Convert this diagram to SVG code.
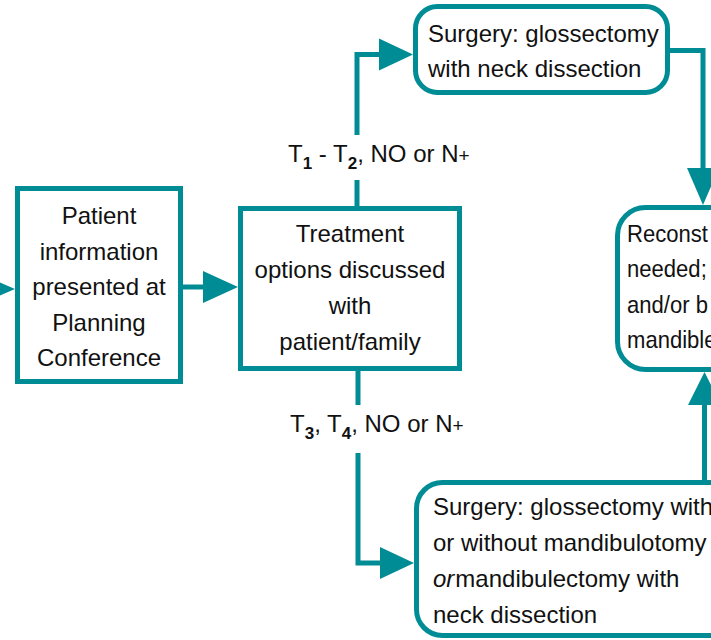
<svg xmlns="http://www.w3.org/2000/svg" width="711" height="640" viewBox="0 0 711 640">
<style>
.box{fill:#fff;stroke:#008c95;stroke-width:5}
.ln{fill:none;stroke:#008c95;stroke-width:5}
.hd{fill:#008c95;stroke:none}
text{font-family:"Liberation Sans",Arial,sans-serif;font-size:24px;fill:#111}
.c{text-anchor:middle}
.sub{font-size:17px;font-weight:bold}
.pl{font-size:19px}
</style>
<rect width="711" height="640" fill="#fff"/>
<g id="connectors">
<polygon class="hd" points="15,289 -22,273 -22,305"/>
<path class="ln" d="M183,287 H205"/>
<polygon class="hd" points="238,287 203,271 203,303"/>
<path class="ln" d="M357,206 V180 M357,135 V54.5 H381"/>
<polygon class="hd" points="413,54.5 379,38.5 379,70.5"/>
<path class="ln" d="M670,50.5 H703 V170"/>
<polygon class="hd" points="703,205 687,168 719,168"/>
<path class="ln" d="M358,371 V405 M358,453 V563 H382"/>
<polygon class="hd" points="414,563 380,547 380,579"/>
<path class="ln" d="M704.5,480 V403"/>
<polygon class="hd" points="704.5,372 688,405 721,405"/>
<text x="288" y="162">T<tspan class="sub" dy="7">1</tspan><tspan dy="-7"> - T</tspan><tspan class="sub" dy="7">2</tspan><tspan dy="-7">, NO or N</tspan><tspan class="pl">+</tspan></text>
<text x="290" y="432">T<tspan class="sub" dy="7">3</tspan><tspan dy="-7">, T</tspan><tspan class="sub" dy="7">4</tspan><tspan dy="-7">, NO or N</tspan><tspan class="pl">+</tspan></text>
</g>
<g id="patient">
<rect class="box" x="17.5" y="188.5" width="163" height="193"/>
<text class="c" x="99" y="224">Patient</text>
<text class="c" x="99" y="259.5">information</text>
<text class="c" x="99" y="295">presented at</text>
<text class="c" x="99" y="330.5">Planning</text>
<text class="c" x="99" y="366">Conference</text>
</g>
<g id="treatment">
<rect class="box" x="240.5" y="208.5" width="219" height="160"/>
<text class="c" x="350" y="242">Treatment</text>
<text class="c" x="350" y="278">options discussed</text>
<text class="c" x="350" y="314">with</text>
<text class="c" x="350" y="350">patient/family</text>
</g>
<g id="surgery-top">
<rect class="box" x="415.5" y="6.5" width="252" height="86" rx="22"/>
<text x="428" y="42">Surgery: glossectomy</text>
<text x="428" y="77">with neck dissection</text>
</g>
<g id="reconstruction">
<rect class="box" x="617.5" y="207.5" width="140" height="162" rx="28"/>
<g transform="translate(627 0) scale(0.92 1) translate(-627 0)">
<text x="627" y="242">Reconst</text>
<text x="627" y="277.5">needed;</text>
<text x="627" y="313">and/or b</text>
<text x="627" y="348.5">mandible</text>
</g>
</g>
<g id="surgery-bottom">
<rect class="box" x="416.5" y="482.5" width="330" height="153" rx="26"/>
<text x="433" y="515">Surgery: glossectomy with</text>
<text x="433" y="551">or without mandibulotomy</text>
<text x="433" y="587"><tspan font-style="italic" font-weight="300">or</tspan><tspan dx="1">mandibulectomy with</tspan></text>
<text x="433" y="623">neck dissection</text>
</g>
</svg>
